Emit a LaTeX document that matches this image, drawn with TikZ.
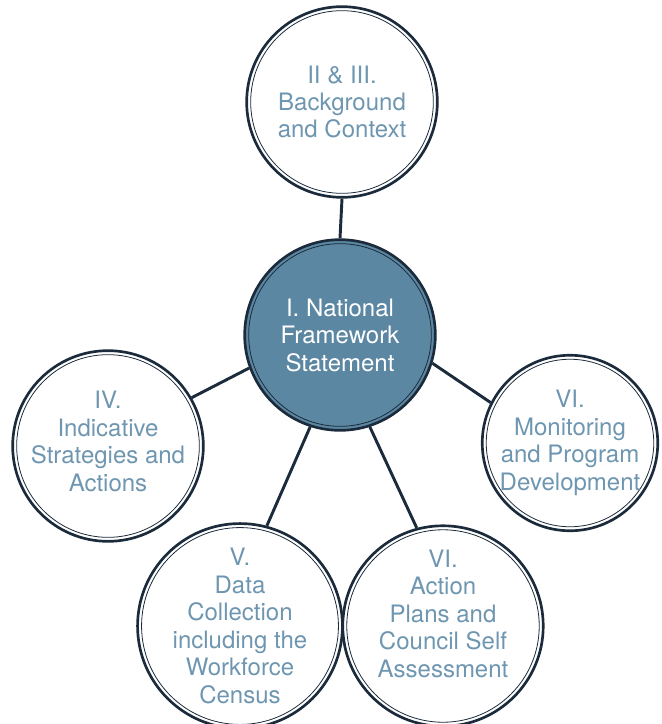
\documentclass[tikz,border=0pt]{standalone}
\usepackage{fontspec}
\setmainfont{TeX Gyre Heros}
\usetikzlibrary{calc}
\definecolor{ink}{HTML}{1B2B3B}
\definecolor{slate}{HTML}{6E96B0}
\definecolor{hub}{HTML}{5B87A2}

\tikzset{
  ring/.style={circle, draw=ink, line width=2pt, minimum size=143pt, inner sep=0pt,
    align=center, text=slate, font=\fontsize{18}{20.6}\selectfont,
    path picture={\draw[ink, line width=0.6pt]
      let \p1=(path picture bounding box.north), \p2=(path picture bounding box.center)
      in (\p2) circle ({\y1-\y2-3pt});}},
  hubring/.style={ring, fill=hub, text=white},
  spoke/.style={draw=ink, line width=2.2pt}
}

\begin{document}
\begin{tikzpicture}[x=0.75pt, y=-0.75pt]
  \useasboundingbox (0,0) rectangle (661,724);

  \node[hubring] (frame) at (340,335) {I. National\\Framework\\Statement};
  \node[ring] (context) at (342,102) {II \& III.\\Background\\and Context};
  \node[ring, text depth=7pt] (strategies) at (108,446) {IV.\\Indicative\\Strategies and\\Actions};
  \node[ring, minimum size=131.5pt] (monitoring) at (570,443) {VI.\\Monitoring\\and Program\\Development};
  \node[ring] (census) at (240,626) {V.\\Data\\Collection\\including the\\Workforce\\Census};
  \node[ring, text depth=19pt] (plans) at (443,626) {VI.\\Action\\Plans and\\Council Self\\Assessment};

  \draw[spoke] (frame.north) -- (context.south);
  \draw[spoke] (frame.-160) -- (strategies.30);
  \draw[spoke] (frame.-17) -- (monitoring.153);
  \draw[spoke] (frame.-108) -- (census.75);
  \draw[spoke] (frame.-72) -- (plans.105);
\end{tikzpicture}
\end{document}
